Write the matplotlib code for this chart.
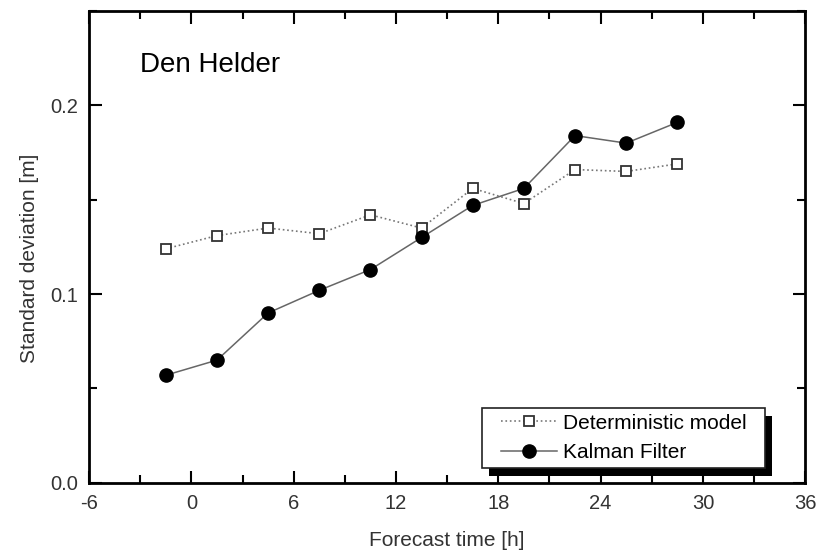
import matplotlib
matplotlib.use('Agg')
import matplotlib.pyplot as plt
from matplotlib.patches import Rectangle
from matplotlib.ticker import MultipleLocator

plt.rcParams['font.family'] = ['Liberation Sans', 'DejaVu Sans']
plt.rcParams['axes.unicode_minus'] = False

# данные
forecast_time = [-1.5, 1.5, 4.5, 7.5, 10.5, 13.5, 16.5, 19.5, 22.5, 25.5, 28.5]
std_deterministic = [0.124, 0.131, 0.135, 0.132, 0.142, 0.135, 0.156, 0.148, 0.166, 0.165, 0.169]
std_kalman = [0.057, 0.065, 0.090, 0.102, 0.113, 0.130, 0.147, 0.156, 0.184, 0.180, 0.191]

fig = plt.figure(figsize=(8.25, 5.53), dpi=100)
ax = fig.add_axes([0.108, 0.127, 0.868, 0.853])

ax.plot(forecast_time, std_deterministic, linestyle=':', color='#777777', linewidth=1.2,
        marker='s', markersize=7.5, markerfacecolor='white', markeredgecolor='#333333',
        markeredgewidth=1.3, label='Deterministic model')
ax.plot(forecast_time, std_kalman, linestyle='-', color='#666666', linewidth=1.1,
        marker='o', markersize=9.5, markerfacecolor='black', markeredgecolor='black',
        label='Kalman Filter')

ax.set_xlim(-6, 36)
ax.set_ylim(0, 0.25)
ax.xaxis.set_major_locator(MultipleLocator(6))
ax.xaxis.set_minor_locator(MultipleLocator(3))
ax.yaxis.set_major_locator(MultipleLocator(0.1))
ax.yaxis.set_minor_locator(MultipleLocator(0.05))
ax.yaxis.set_major_formatter(plt.FuncFormatter(lambda v, p: f'{v:.1f}'))

ax.tick_params(which='both', direction='in', top=True, right=True, width=1.5,
               labelsize=14.5, labelcolor='#333333', pad=8)
ax.tick_params(which='major', length=9)
ax.tick_params(which='minor', length=6)
for s in ax.spines.values():
    s.set_linewidth(2)

ax.set_xlabel('Forecast time [h]', fontsize=15, color='#333333')
ax.set_ylabel('Standard deviation [m]', fontsize=15, color='#333333')
ax.xaxis.set_label_coords(0.5, -0.103)
ax.yaxis.set_label_coords(-0.07, 0.475)

ax.text(0.071, 0.871, 'Den Helder', transform=ax.transAxes, fontsize=20, color='black')

# рамка легенды с тенью
box_x, box_y, box_w, box_h = 0.549, 0.032, 0.395, 0.127
ax.add_patch(Rectangle((box_x + 0.009, box_y - 0.017), box_w, box_h, transform=ax.transAxes,
                       facecolor='black', edgecolor='none', zorder=4))
ax.add_patch(Rectangle((box_x, box_y), box_w, box_h, transform=ax.transAxes,
                       facecolor='white', edgecolor='#222222', linewidth=1.2, zorder=4.5))

leg = ax.legend(loc='center', bbox_to_anchor=(box_x + box_w / 2, box_y + box_h / 2),
                fontsize=15, frameon=False, handlelength=2.7, handletextpad=0.3,
                borderpad=0.0, labelspacing=0.5)
leg.set_zorder(5)

plt.savefig('out.png', dpi=100)
